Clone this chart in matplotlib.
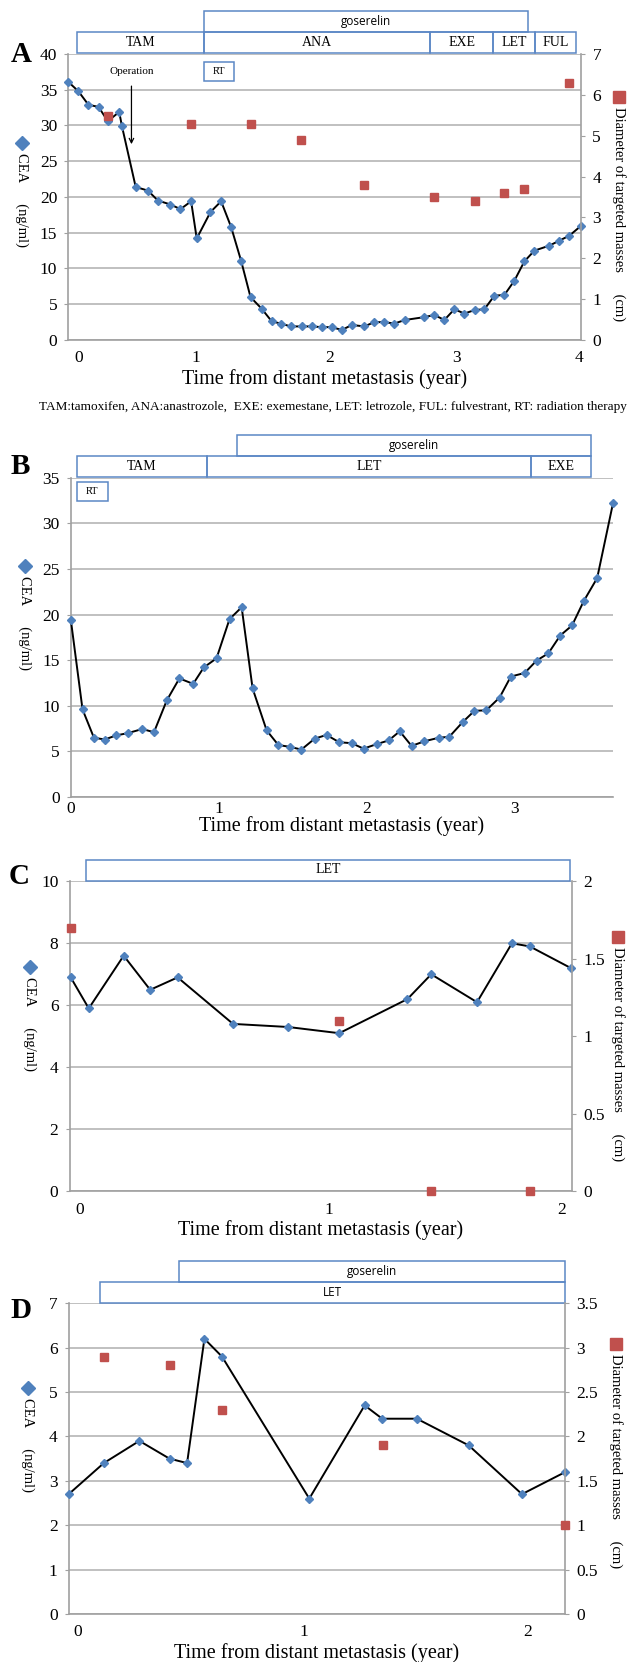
import numpy as np
import matplotlib.pyplot as plt
from matplotlib.patches import Rectangle
from matplotlib.lines import Line2D

plt.rcParams['font.family'] = ['Liberation Serif', 'DejaVu Serif']

W, H = 633, 1662
BLUE = '#4F81BD'
RED = '#C0504D'
GRID = '#B5B5B5'
AXIS = '#A0A0A0'
BOX = '#5B87C5'

# ---------------- data ----------------
# panel A
a_year = [-0.087, -0.007, 0.074, 0.155, 0.229, 0.32, 0.342, 0.452, 0.549, 0.63,
          0.73, 0.81, 0.895, 0.94, 1.05, 1.135, 1.215, 1.296, 1.37, 1.458,
          1.54, 1.613, 1.69, 1.78, 1.86, 1.94, 2.02, 2.10, 2.18, 2.28,
          2.36, 2.44, 2.52, 2.605, 2.76, 2.84, 2.92, 3.00, 3.08, 3.165,
          3.24, 3.32, 3.40, 3.48, 3.56, 3.64, 3.76, 3.84, 3.92, 4.015]
a_cea = [36.1, 34.8, 32.9, 32.6, 30.6, 31.9, 29.9, 21.4, 20.9, 19.5,
         18.95, 18.3, 19.4, 14.2, 17.9, 19.4, 15.8, 11.0, 6.0, 4.4,
         2.6, 2.3, 1.9, 1.9, 1.9, 1.8, 1.8, 1.4, 2.1, 1.9,
         2.5, 2.5, 2.3, 2.8, 3.2, 3.5, 2.8, 4.3, 3.7, 4.2,
         4.3, 6.2, 6.3, 8.3, 11.0, 12.5, 13.2, 13.9, 14.6, 16.0]
a_diam_year = [0.229, 0.895, 1.37, 1.77, 2.28, 2.84, 3.165, 3.40, 3.56, 3.92]
a_diam = [5.48, 5.29, 5.29, 4.9, 3.79, 3.5, 3.4, 3.59, 3.69, 6.29]
a_ticks = [0, 0.936, 2.0, 3.02, 4.0]
a_row1 = [('TAM', -0.014, 1.0), ('ANA', 1.0, 2.805), ('EXE', 2.805, 3.31),
          ('LET', 3.31, 3.648), ('FUL', 3.648, 3.975)]
a_row2 = [('goserelin', 1.0, 3.587)]
a_rt = (1.0, 1.24)

# panel B
b_year = [0.001, 0.08, 0.157, 0.23, 0.307, 0.386, 0.484, 0.563, 0.65, 0.735,
          0.828, 0.90, 0.986, 1.074, 1.156, 1.23, 1.325, 1.404, 1.48, 1.56,
          1.65, 1.73, 1.816, 1.90, 1.98, 2.07, 2.15, 2.225, 2.305, 2.39,
          2.49, 2.56, 2.65, 2.73, 2.81, 2.90, 2.976, 3.07, 3.15, 3.23,
          3.31, 3.39, 3.47, 3.56, 3.667]
b_cea = [19.4, 9.6, 6.5, 6.3, 6.75, 7.0, 7.45, 7.1, 10.6, 13.0,
         12.4, 14.2, 15.2, 19.5, 20.8, 11.9, 7.3, 5.7, 5.5, 5.2,
         6.4, 6.8, 6.0, 5.9, 5.3, 5.8, 6.2, 7.2, 5.6, 6.1,
         6.5, 6.6, 8.2, 9.45, 9.5, 10.9, 13.2, 13.6, 14.95, 15.75,
         17.7, 18.8, 21.5, 24.0, 32.2]
b_ticks = [0, 1, 2, 3]
b_row1 = [('TAM', 0.042, 0.92), ('LET', 0.92, 3.115), ('EXE', 3.115, 3.52)]
b_row2 = [('goserelin', 1.125, 3.52)]
b_rt = (0.042, 0.249)

# panel C
c_year = [-0.037, 0.038, 0.183, 0.293, 0.407, 0.637, 0.866, 1.078, 1.361, 1.46,
          1.65, 1.795, 1.869, 2.04]
c_cea = [6.9, 5.9, 7.6, 6.5, 6.9, 5.4, 5.3, 5.1, 6.2, 7.0, 6.1, 8.0, 7.9, 7.2]
c_diam_year = [-0.037, 1.078, 1.46, 1.869]
c_diam = [1.7, 1.1, 0, 0]
c_ticks = [0, 1.036, 2]
c_row1 = [('LET', 0.027, 2.036)]

# panel D
d_year = [-0.041, 0.115, 0.273, 0.407, 0.485, 0.562, 0.64, 1.028, 1.274, 1.352,
          1.506, 1.736, 1.973, 2.166]
d_cea = [2.7, 3.4, 3.9, 3.5, 3.4, 6.2, 5.8, 2.6, 4.7, 4.4, 4.4, 3.8, 2.7, 3.2]
d_diam_year = [0.115, 0.407, 0.64, 1.355, 2.166]
d_diam = [2.9, 2.8, 2.3, 1.9, 1.0]
d_ticks = [0, 1.005, 2]
d_row1 = [('LET', 0.099, 2.163)]
d_row2 = [('goserelin', 0.447, 2.163)]

caption = ('TAM:tamoxifen, ANA:anastrozole,  EXE: exemestane, LET: letrozole, '
           'FUL: fulvestrant, RT: radiation therapy')

fig = plt.figure(figsize=(W / 100, H / 100), dpi=100)


def fx(x):
    return x / W


def fy(y):
    return 1 - y / H


def make_axes(left, top, right, bottom):
    return fig.add_axes([fx(left), fy(bottom), (right - left) / W, (bottom - top) / H])


def fmt(v):
    return '{:g}'.format(v)


def style_left(ax, xlim, xticks, ymax, ystep, tickpad=7.5, labelpad=2):
    ax.set_xlim(xlim)
    ax.set_ylim(0, ymax)
    yt = np.arange(0, ymax + ystep / 2, ystep)
    ax.set_yticks(yt)
    ax.set_yticklabels([fmt(v) for v in yt])
    ax.set_xticks(xticks)
    ax.set_xticklabels([str(i) for i in range(len(xticks))])
    ax.grid(axis='y', color=GRID, lw=1.2)
    ax.set_axisbelow(True)
    for s in ['top', 'right']:
        ax.spines[s].set_visible(False)
    for s in ['left', 'bottom']:
        ax.spines[s].set_color(AXIS)
        ax.spines[s].set_linewidth(1.2)
    ax.tick_params(axis='x', length=0, pad=tickpad, labelsize=12.5)
    ax.tick_params(axis='y', length=3, color=AXIS, pad=5, labelsize=12.5)
    ax.set_xlabel('Time from distant metastasis (year)', fontsize=14.5, labelpad=labelpad)


def style_right(ax, ymax, ystep):
    ax2 = ax.twinx()
    ax2.set_ylim(0, ymax)
    yt = np.arange(0, ymax + ystep / 2, ystep)
    ax2.set_yticks(yt)
    ax2.set_yticklabels([fmt(v) for v in yt])
    for s in ['top', 'left', 'bottom']:
        ax2.spines[s].set_visible(False)
    ax2.spines['right'].set_color(AXIS)
    ax2.spines['right'].set_linewidth(1.2)
    ax2.tick_params(axis='y', length=3, color=AXIS, pad=5, labelsize=12.5)
    return ax2


def draw_rows(ax, rows, ax_h, sans=()):
    row_h = 21 / ax_h
    tr = ax.get_xaxis_transform()
    for r, row in enumerate(rows):
        y0 = 1 + (0.8 + r * 21) / ax_h
        for label, x0, x1 in row:
            ax.add_patch(Rectangle((x0, y0), x1 - x0, row_h, transform=tr, fill=False,
                                   ec=BOX, lw=1.1, clip_on=False))
            if label in sans:
                ax.text((x0 + x1) / 2, y0 + row_h / 2, label, transform=tr, ha='center',
                        va='center', fontsize=8.5, family=['Open Sans', 'DejaVu Sans'])
            else:
                ax.text((x0 + x1) / 2, y0 + row_h / 2, label, transform=tr, ha='center',
                        va='center', fontsize=10)


def draw_rt(ax, x0, x1, y0, y1):
    ax.add_patch(Rectangle((x0, y0), x1 - x0, y1 - y0, fill=False, ec=BOX, lw=1.1,
                           clip_on=False))
    ax.text((x0 + x1) / 2, (y0 + y1) / 2, 'RT', ha='center', va='center', fontsize=7.5)


def side_labels(letter, lpos, left, right=None):
    fig.text(fx(lpos[0]), fy(lpos[1]), letter, fontsize=21, fontweight='bold',
             ha='center', va='center')
    x, y = left
    fig.add_artist(Line2D([fx(x)], [fy(y)], marker='D', ms=7, color=BLUE,
                          transform=fig.transFigure))
    fig.text(fx(x), fy(y + 10), 'CEA      (ng/ml)', rotation=270, ha='center', va='top',
             fontsize=10.5)
    if right is not None:
        x, y = right
        fig.add_artist(Line2D([fx(x)], [fy(y)], marker='s', ms=8, color=RED,
                              transform=fig.transFigure))
        fig.text(fx(x), fy(y + 10), 'Diameter of targeted masses      (cm)', rotation=270,
                 ha='center', va='top', fontsize=10.5)


def plot_cea(ax, x, y):
    ax.plot(x, y, color='black', lw=1.4, marker='D', ms=4.5, mfc=BLUE, mec=BLUE,
            zorder=3, clip_on=False)


def plot_diam(ax2, x, y):
    ax2.plot(x, y, 's', color=RED, ms=5.5, clip_on=False, zorder=3)


# ---------------- panel A ----------------
axA = make_axes(68.3, 54, 581.3, 340)
style_left(axA, (-0.087, 4.015), a_ticks, 40, 5)
axA2 = style_right(axA, 7, 1)
plot_cea(axA, a_year, a_cea)
plot_diam(axA2, a_diam_year, a_diam)
draw_rows(axA, [a_row1, a_row2], 286, sans=('goserelin',))
draw_rt(axA, a_rt[0], a_rt[1], 36.2, 38.9)
axA.annotate('Operation', xy=(0.418, 27.0), xytext=(0.418, 37.5), ha='center',
             va='center', fontsize=8,
             arrowprops=dict(arrowstyle='->', color='black', lw=0.9, shrinkA=5))
side_labels('A', (21, 55), (22, 143), (619, 97))
fig.text(fx(333), fy(407), caption, ha='center', va='center', fontsize=9.5)

# ---------------- panel B ----------------
axB = make_axes(70.7, 477.7, 613, 797)
style_left(axB, (0, 3.667), b_ticks, 35, 5, tickpad=3, labelpad=-1)
plot_cea(axB, b_year, b_cea)
draw_rows(axB, [b_row1, b_row2], 319.3, sans=('goserelin',))
draw_rt(axB, b_rt[0], b_rt[1], 32.4, 34.5)
side_labels('B', (20, 466), (25, 566))

# ---------------- panel C ----------------
axC = make_axes(69.5, 881.3, 571.9, 1191.3)
style_left(axC, (-0.042, 2.044), c_ticks, 10, 2)
axC2 = style_right(axC, 2, 0.5)
plot_cea(axC, c_year, c_cea)
plot_diam(axC2, c_diam_year, c_diam)
draw_rows(axC, [c_row1], 310)
side_labels('C', (19, 876), (30, 967), (618, 937))

# ---------------- panel D ----------------
axD = make_axes(68.7, 1303.3, 565.4, 1614)
style_left(axD, (-0.041, 2.166), d_ticks, 7, 1)
axD2 = style_right(axD, 3.5, 0.5)
plot_cea(axD, d_year, d_cea)
plot_diam(axD2, d_diam_year, d_diam)
draw_rows(axD, [d_row1, d_row2], 310.7, sans=('LET', 'goserelin'))
side_labels('D', (21, 1311), (27.5, 1388), (616, 1344))

fig.savefig('out.png', dpi=100)
